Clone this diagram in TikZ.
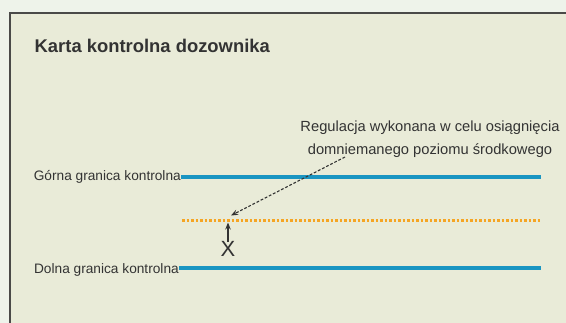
\documentclass[tikz,border=0pt]{standalone}
\usepackage{fontspec}
\setmainfont{Liberation Sans}
\usetikzlibrary{arrows.meta}
\definecolor{pagebg}{HTML}{EEF3EA}
\definecolor{cardbg}{HTML}{E9EBD8}
\definecolor{frame}{HTML}{4A4A48}
\definecolor{ink}{HTML}{333333}
\definecolor{limitblue}{HTML}{1A95C2}
\definecolor{midorange}{HTML}{F5A524}
\tikzset{
  label text/.style={font=\fontsize{13.7}{16}\selectfont, text=ink, inner sep=0pt},
  limit line/.style={draw=limitblue, line width=3.3pt},
  centre line/.style={draw=midorange, line width=3pt, dash pattern=on 2.6pt off 1.9pt},
  pointer/.style={draw=ink, line width=1.1pt, dash pattern=on 2.8pt off 1.8pt, -{Stealth[length=7pt,width=5.5pt]}},
  shift arrow/.style={draw=ink, line width=1.5pt, -{Stealth[length=7pt,width=5.5pt]}},
}
\begin{document}
\begin{tikzpicture}[x=1pt,y=-1pt]
  % page and card
  \fill[pagebg] (0,0) rectangle (566,323);
  \useasboundingbox (0,0) rectangle (566,323);
  \fill[cardbg] (10,13) rectangle (570,330);
  \draw[frame, line width=1.6pt] (10,330) -- (10,13) -- (570,13);

  % title
  \node[anchor=base west, inner sep=0pt, text=ink, font=\fontsize{18.4}{21}\selectfont\bfseries]
    (title) at (34.5,53) {Karta kontrolna dozownika};

  % control limits
  \node[label text, anchor=base east] (upper) at (181,181) {Górna granica kontrolna};
  \node[label text, anchor=base east] (lower) at (179,274) {Dolna granica kontrolna};
  \coordinate (upperEnd) at (541,177);
  \coordinate (lowerEnd) at (541,268);
  \draw[limit line] (upper.east |- upperEnd) -- (upperEnd);
  \draw[limit line] (lower.east |- lowerEnd) -- (lowerEnd);

  % assumed centre level
  \coordinate (midStart) at (182,221);
  \coordinate (midEnd) at (541,221);
  \draw[centre line] (midStart) -- (midEnd);

  % process mean and its adjustment
  \node[inner sep=0pt, text=ink, font=\fontsize{22}{24}\selectfont] (mean) at (228,248.5) {X};
  \coordinate (target) at (228,222.5);
  \draw[shift arrow] ([yshift=-1.5pt]mean.north) -- (target);

  % annotation
  \node[label text, font=\fontsize{14.7}{23.3}\selectfont, align=center, anchor=base]
    (note) at (430,155) {Regulacja wykonana w celu osiągnięcia\\domniemanego poziomu środkowego};
  \coordinate (noteFoot) at (345,157);
  \coordinate (noteTip) at (231,215.5);
  \draw[pointer] (noteFoot) -- (noteTip);
\end{tikzpicture}
\end{document}
